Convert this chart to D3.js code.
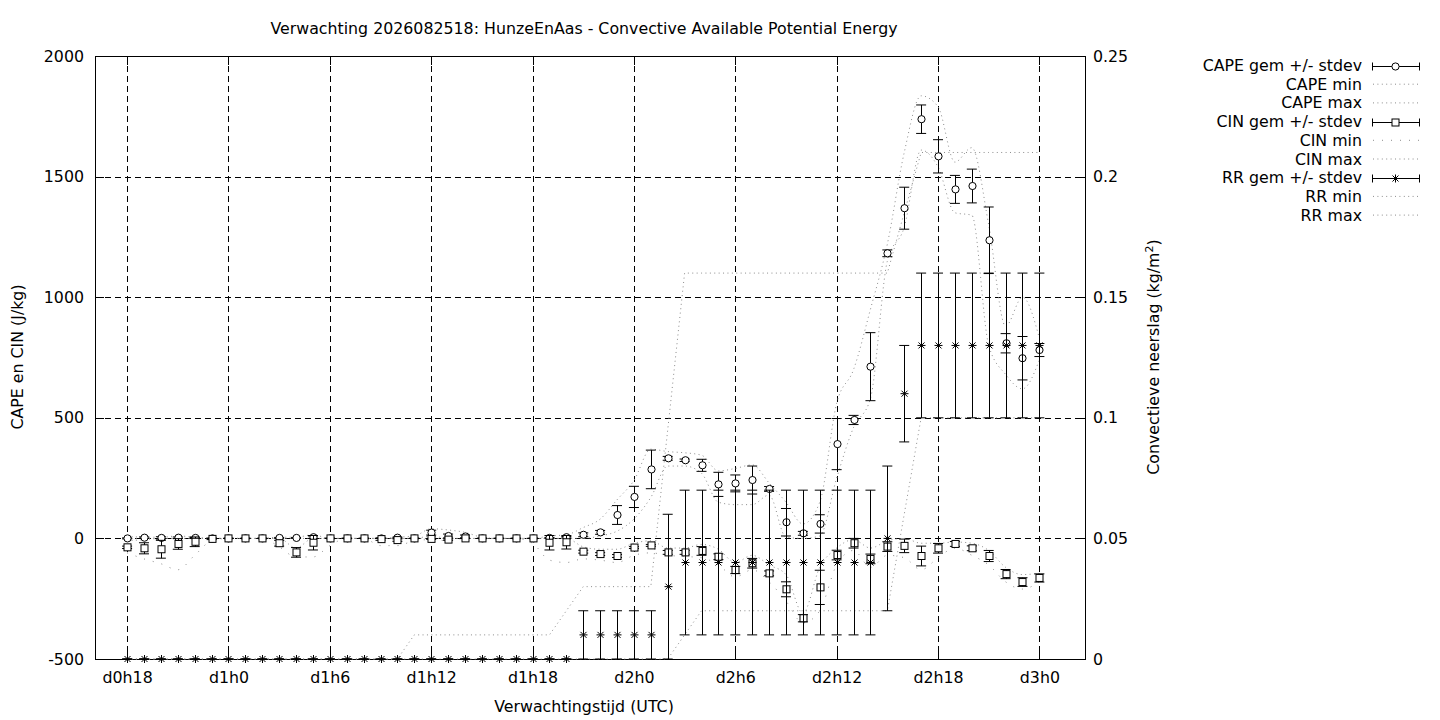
<!doctype html>
<html lang="nl">
<head>
<meta charset="utf-8">
<title>Verwachting HunzeEnAas - CAPE</title>
<script src="https://cdn.jsdelivr.net/npm/d3@7/dist/d3.min.js"></script>
<style>
  html, body { margin: 0; background: #fff; }
  svg { display: block; font-family: "DejaVu Sans", sans-serif; }
  .axis text { font-size: 15.8px; fill: #000; font-family: "DejaVu Sans", sans-serif; }
</style>
</head>
<body>
<svg id="chart" width="1440" height="720"></svg>
<script>
// forecast hours (d0h18 .. d3h0)
const hours = [18, 19, 20, 21, 22, 23, 24, 25, 26, 27, 28, 29, 30, 31, 32, 33, 34, 35, 36,
  37, 38, 39, 40, 41, 42, 43, 44, 45, 46, 47, 48, 49, 50, 51, 52, 53, 54, 55, 56, 57,
  58, 59, 60, 61, 62, 63, 64, 65, 66, 67, 68, 69, 70, 71, 72];

const capeMean = [0, 3, 2, 3, 2, 0, 0, 0, 0, 2, 2, 5, 0, 0, 0, 0, 3, 0, 24,
  10, 8, 0, 0, 0, 0, 2, 5, 15, 25, 97, 172, 286, 332, 324, 303, 224, 228, 242, 205, 67,
  21, 60, 391, 491, 712, 1182, 1369, 1738, 1584, 1447, 1461, 1236, 809, 747, 781];
const capeSd = [2, 3, 5, 3, 2, 0, 0, 0, 0, 2, 2, 5, 0, 0, 0, 0, 2, 0, 10,
  8, 6, 0, 0, 0, 0, 2, 3, 8, 8, 39, 44, 80, 8, 5, 25, 50, 35, 58, 10, 57,
  8, 38, 106, 19, 141, 14, 87, 59, 69, 58, 70, 138, 40, 90, 27];
const capeMin = [0, 0, 0, 0, 0, 0, 0, 0, 0, 0, 0, 0, 0, 0, 0, 0, 0, 0, 10,
  0, 0, 0, 0, 0, 0, 0, 0, 0, 10, 30, 80, 170, 300, 300, 270, 150, 140, 140, 180, 5,
  0, 10, 250, 460, 580, 1150, 1290, 1610, 1540, 1350, 1340, 800, 680, 620, 740];
const capeMax = [10, 5, 5, 10, 5, 0, 0, 0, 0, 5, 5, 15, 0, 0, 0, 0, 5, 10, 40,
  35, 25, 5, 0, 0, 0, 10, 15, 45, 80, 160, 240, 370, 360, 355, 345, 280, 290, 305, 230, 150,
  60, 150, 560, 700, 950, 1220, 1600, 1835, 1790, 1560, 1620, 1300, 880, 1000, 830];

const cinMean = [-37, -41, -45, -23, -14, -2, 0, 0, 0, -20, -58, -18, 0, 0, 0, -3, -7, 0, -2,
  -5, 0, 0, 0, 0, 0, -18, -16, -55, -65, -73, -38, -29, -58, -58, -52, -76, -131, -103, -145, -211,
  -331, -203, -69, -20, -85, -34, -31, -73, -41, -23, -41, -73, -148, -181, -164];
const cinSd = [5, 23, 37, 22, 20, 3, 0, 0, 0, 12, 20, 30, 0, 0, 0, 5, 5, 0, 2,
  3, 0, 0, 0, 0, 0, 30, 28, 6, 6, 6, 4, 4, 8, 8, 18, 12, 15, 20, 10, 31,
  15, 71, 20, 20, 20, 20, 28, 41, 20, 10, 10, 23, 19, 18, 17];
const cinMin = [-60, -85, -105, -130, -70, -10, 0, 0, 0, -35, -77, -77, -30, 0, 0, -30, -30, -10, -5,
  -10, 0, 0, 0, 0, -20, -90, -100, -85, -90, -100, -70, -60, -70, -75, -80, -110, -160, -130, -180, -260,
  -350, -300, -110, -50, -120, -70, -80, -130, -80, -40, -70, -110, -180, -210, -180];
const cinMax = [-10, -5, 0, 0, 0, 0, 0, 0, 0, 0, -40, 0, 0, 0, 0, 0, 0, 0, 0,
  0, 0, 0, 0, 0, 0, 0, 0, -35, -45, -45, -20, -10, -40, -40, -25, -45, -100, -70, -110, -150,
  -310, -120, -40, -5, -40, -10, 0, -20, -20, -15, -20, -50, -120, -150, -145];

const rrMean = [0, 0, 0, 0, 0, 0, 0, 0, 0, 0, 0, 0, 0, 0, 0, 0, 0, 0, 0,
  0, 0, 0, 0, 0, 0, 0, 0, 0.01, 0.01, 0.01, 0.01, 0.01, 0.03, 0.04, 0.04, 0.04, 0.04, 0.04, 0.04, 0.04,
  0.04, 0.04, 0.04, 0.04, 0.04, 0.05, 0.11, 0.13, 0.13, 0.13, 0.13, 0.13, 0.13, 0.13, 0.13];
const rrSd = [0, 0, 0, 0, 0, 0, 0, 0, 0, 0, 0, 0, 0, 0, 0, 0, 0, 0, 0,
  0, 0, 0, 0, 0, 0, 0, 0, 0.01, 0.01, 0.01, 0.01, 0.01, 0.03, 0.03, 0.03, 0.03, 0.03, 0.03, 0.03, 0.03,
  0.03, 0.03, 0.03, 0.03, 0.03, 0.03, 0.02, 0.03, 0.03, 0.03, 0.03, 0.03, 0.03, 0.03, 0.03];
const rrMin = [0, 0, 0, 0, 0, 0, 0, 0, 0, 0, 0, 0, 0, 0, 0, 0, 0, 0, 0,
  0, 0, 0, 0, 0, 0, 0, 0, 0, 0, 0, 0, 0, 0, 0.01, 0.02, 0.02, 0.02, 0.02, 0.02, 0.02,
  0.02, 0.02, 0.02, 0.02, 0.02, 0.02, 0.06, 0.1, 0.1, 0.1, 0.1, 0.1, 0.1, 0.1, 0.1];
const rrMax = [0, 0, 0, 0, 0, 0, 0, 0, 0, 0, 0, 0, 0, 0, 0, 0, 0, 0.01, 0.01,
  0.01, 0.01, 0.01, 0.01, 0.01, 0.01, 0.01, 0.02, 0.03, 0.03, 0.03, 0.03, 0.03, 0.095, 0.16, 0.16, 0.16, 0.16, 0.16, 0.16, 0.16,
  0.16, 0.16, 0.16, 0.16, 0.16, 0.16, 0.185, 0.21, 0.21, 0.21, 0.21, 0.21, 0.21, 0.21, 0.21];

const xTickHours = [18, 24, 30, 36, 42, 48, 54, 60, 66, 72];
const xTickLabels = ["d0h18", "d1h0", "d1h6", "d1h12", "d1h18", "d2h0", "d2h6", "d2h12", "d2h18", "d3h0"];
const yLeftTicks = [-500, 0, 500, 1000, 1500, 2000];
const yRightTicks = [0, 0.05, 0.1, 0.15, 0.2, 0.25];
const legendLabels = ["CAPE gem +/- stdev", "CAPE min", "CAPE max", "CIN gem +/- stdev", "CIN min",
  "CIN max", "RR gem +/- stdev", "RR min", "RR max"];

const FS = 15.8;
const svg = d3.select("#chart");
const L = 95, R = 1085, T = 56, B = 659;

const x = d3.scaleLinear().domain([16.1, 74.7]).range([L, R]);
const yL = d3.scaleLinear().domain([-500, 2000]).range([B, T]);
const yR = d3.scaleLinear().domain([0, 0.25]).range([B, T]);

// grid
const grid = svg.append("g").attr("stroke", "#000").attr("stroke-width", 1)
  .attr("stroke-dasharray", "6,4").attr("shape-rendering", "crispEdges");
grid.selectAll(".gx").data(xTickHours).join("line")
  .attr("x1", d => Math.round(x(d)) + 0.5).attr("x2", d => Math.round(x(d)) + 0.5)
  .attr("y1", T).attr("y2", B);
grid.selectAll(".gy").data(yLeftTicks.slice(1, -1)).join("line")
  .attr("x1", L).attr("x2", R)
  .attr("y1", d => Math.round(yL(d)) + 0.5).attr("y2", d => Math.round(yL(d)) + 0.5);

// axes
const axL = svg.append("g").attr("class", "axis").attr("transform", `translate(${L},0)`)
  .call(d3.axisLeft(yL).tickValues(yLeftTicks).tickFormat(d => String(d)).tickSize(-9).tickPadding(11));
const axR = svg.append("g").attr("class", "axis").attr("transform", `translate(${R},0)`)
  .call(d3.axisRight(yR).tickValues(yRightTicks).tickFormat(d => String(+d.toFixed(2))).tickSize(-9).tickPadding(8));
const axB = svg.append("g").attr("class", "axis").attr("transform", `translate(0,${B})`)
  .call(d3.axisBottom(x).tickValues(xTickHours).tickFormat((d, i) => xTickLabels[i]).tickSize(-9).tickPadding(13));
const axT = svg.append("g").attr("class", "axis").attr("transform", `translate(0,${T})`)
  .call(d3.axisTop(x).tickValues(xTickHours).tickFormat("").tickSize(-9));
[axL, axR, axB, axT].forEach(a => {
  a.select(".domain").remove();
  a.selectAll(".tick line").attr("stroke", "#000").attr("shape-rendering", "crispEdges");
});

svg.append("rect").attr("x", L + 0.5).attr("y", T + 0.5).attr("width", R - L).attr("height", B - T)
  .attr("fill", "none").attr("stroke", "#000").attr("shape-rendering", "crispEdges");

// min / max lines
const dotted = "1,3.4", sparse = "1,8";
function rangeLine(vals, ys, dash, curve) {
  const line = d3.line().x((d, i) => x(hours[i])).y(d => ys(d)).curve(curve);
  svg.append("path").datum(vals).attr("d", line).attr("fill", "none")
    .attr("stroke", "#8c8c8c").attr("stroke-width", 1).attr("stroke-dasharray", dash);
}
rangeLine(capeMin, yL, dotted, d3.curveMonotoneX);
rangeLine(capeMax, yL, dotted, d3.curveMonotoneX);
rangeLine(cinMin, yL, sparse, d3.curveMonotoneX);
rangeLine(cinMax, yL, dotted, d3.curveMonotoneX);
rangeLine(rrMin, yR, dotted, d3.curveLinear);
rangeLine(rrMax, yR, dotted, d3.curveLinear);

// markers
const markers = {
  circle: g => g.append("circle").attr("r", 3.6).attr("fill", "#fff").attr("stroke", "#000"),
  square: g => g.append("rect").attr("x", -3.5).attr("y", -3.5).attr("width", 7).attr("height", 7)
    .attr("fill", "#fff").attr("stroke", "#000"),
  star: g => g.append("path").attr("d", "M-4,0H4M0,-4V4M-3,-3L3,3M-3,3L3,-3")
    .attr("stroke", "#000").attr("fill", "none")
};

function errorSeries(means, sds, ys, marker) {
  const g = svg.append("g").attr("stroke", "#000").attr("stroke-width", 1);
  const pts = means.map((m, i) => ({ h: hours[i], m, s: sds[i] }));
  const bar = g.selectAll("g.eb").data(pts).join("g").attr("class", "eb");
  bar.append("line")
    .attr("x1", d => Math.round(x(d.h)) + 0.5).attr("x2", d => Math.round(x(d.h)) + 0.5)
    .attr("y1", d => ys(d.m - d.s)).attr("y2", d => ys(d.m + d.s));
  bar.append("line")
    .attr("x1", d => x(d.h) - 5).attr("x2", d => x(d.h) + 5)
    .attr("y1", d => ys(d.m + d.s)).attr("y2", d => ys(d.m + d.s));
  bar.append("line")
    .attr("x1", d => x(d.h) - 5).attr("x2", d => x(d.h) + 5)
    .attr("y1", d => ys(d.m - d.s)).attr("y2", d => ys(d.m - d.s));
  g.selectAll("g.mk").data(pts).join("g").attr("class", "mk")
    .attr("transform", d => `translate(${Math.round(x(d.h)) + 0.5},${ys(d.m)})`)
    .each(function () { markers[marker](d3.select(this)); });
}
errorSeries(capeMean, capeSd, yL, "circle");
errorSeries(cinMean, cinSd, yL, "square");
errorSeries(rrMean, rrSd, yR, "star");

// titles
svg.append("text").attr("x", 584).attr("y", 34).attr("text-anchor", "middle")
  .attr("font-size", FS).text("Verwachting 2026082518: HunzeEnAas - Convective Available Potential Energy");
svg.append("text").attr("x", 584).attr("y", 712).attr("text-anchor", "middle")
  .attr("font-size", FS).text("Verwachtingstijd (UTC)");
svg.append("text").attr("transform", "translate(23,357) rotate(-90)").attr("text-anchor", "middle")
  .attr("font-size", FS).text("CAPE en CIN (J/kg)");
const rl = svg.append("text").attr("transform", "translate(1159,357) rotate(-90)").attr("text-anchor", "middle")
  .attr("font-size", FS);
rl.append("tspan").text("Convectieve neerslag (kg/m");
rl.append("tspan").attr("font-size", 11).attr("dy", -6).text("2");
rl.append("tspan").attr("dy", 6).text(")");

// legend
const legendKinds = ["circle", "dot", "dot", "square", "sparse", "dot", "star", "dot", "dot"];
const lg = svg.append("g");
legendLabels.forEach((lab, i) => {
  const yy = 65.5 + i * 18.7;
  lg.append("text").attr("x", 1362).attr("y", yy).attr("dy", "0.35em").attr("text-anchor", "end")
    .attr("font-size", FS).text(lab);
  const k = legendKinds[i];
  if (k === "dot" || k === "sparse") {
    lg.append("line").attr("x1", 1373).attr("x2", 1420).attr("y1", yy).attr("y2", yy)
      .attr("stroke", "#8c8c8c").attr("stroke-dasharray", k === "dot" ? dotted : sparse);
  } else {
    const gy = Math.round(yy) + 0.5;
    lg.append("path").attr("d", `M1372.5,${gy - 4}V${gy + 4}M1372.5,${gy}H1419.5M1419.5,${gy - 4}V${gy + 4}`)
      .attr("stroke", "#000").attr("fill", "none");
    const mg = lg.append("g").attr("transform", `translate(1395.5,${gy})`);
    markers[k](mg);
  }
});
</script>
</body>
</html>
